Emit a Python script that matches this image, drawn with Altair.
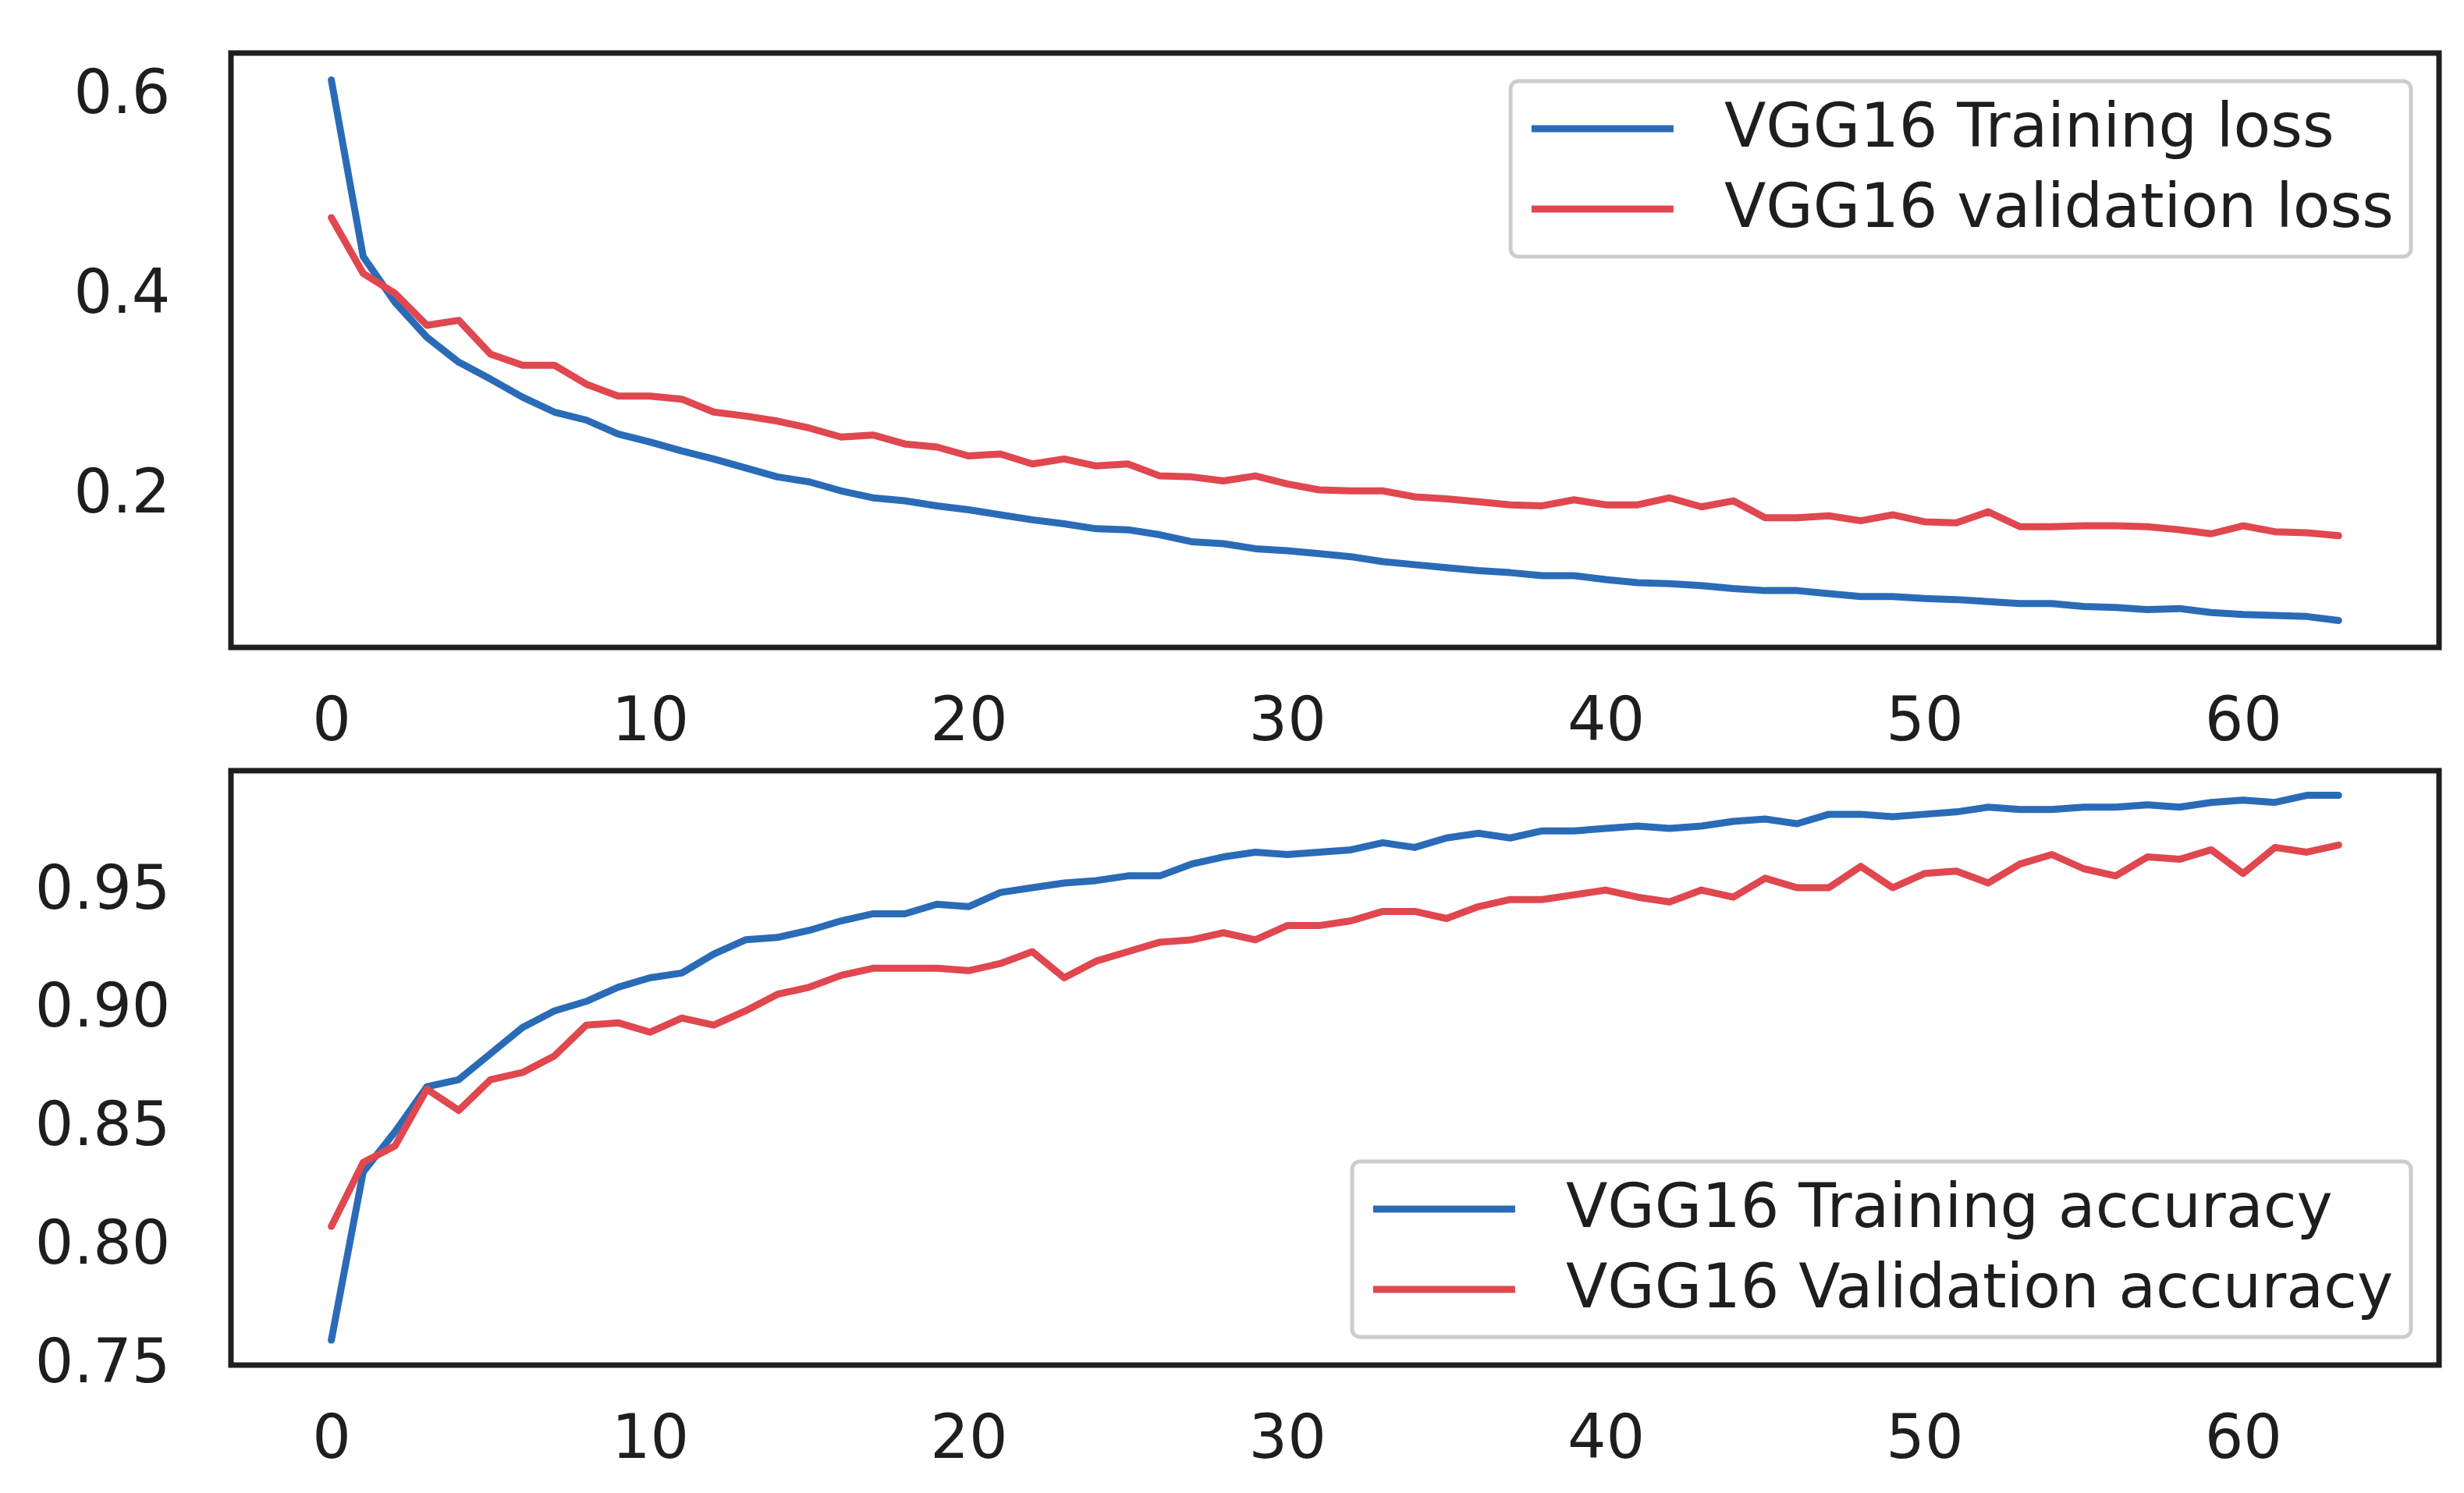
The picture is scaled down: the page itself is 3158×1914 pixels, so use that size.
"""Training history of VGG16: loss and accuracy per epoch."""

import altair as alt
import pandas as pd

epochs = list(range(64))

train_loss = [
    0.615, 0.438, 0.392, 0.357, 0.332, 0.315, 0.297, 0.282, 0.274, 0.260,
    0.252, 0.243, 0.235, 0.226, 0.217, 0.212, 0.203, 0.196, 0.193, 0.188,
    0.184, 0.179, 0.174, 0.170, 0.165, 0.164, 0.159, 0.152, 0.150, 0.145,
    0.143, 0.140, 0.137, 0.132, 0.129, 0.126, 0.123, 0.121, 0.118, 0.118,
    0.114, 0.111, 0.110, 0.108, 0.105, 0.103, 0.103, 0.100, 0.097, 0.097,
    0.095, 0.094, 0.092, 0.090, 0.090, 0.087, 0.086, 0.084, 0.085, 0.081,
    0.079, 0.078, 0.077, 0.073,
]
val_loss = [
    0.477, 0.421, 0.401, 0.369, 0.374, 0.340, 0.329, 0.329, 0.310, 0.298,
    0.298, 0.295, 0.282, 0.278, 0.273, 0.266, 0.257, 0.259, 0.250, 0.247,
    0.238, 0.240, 0.230, 0.235, 0.228, 0.230, 0.218, 0.217, 0.213, 0.218,
    0.210, 0.204, 0.203, 0.203, 0.197, 0.195, 0.192, 0.189, 0.188, 0.194,
    0.189, 0.189, 0.196, 0.187, 0.193, 0.176, 0.176, 0.178, 0.173, 0.179,
    0.172, 0.171, 0.182, 0.167, 0.167, 0.168, 0.168, 0.167, 0.164, 0.160,
    0.168, 0.162, 0.161, 0.158,
]
train_acc = [
    0.760, 0.831, 0.848, 0.867, 0.870, 0.881, 0.892, 0.899, 0.903, 0.909,
    0.913, 0.915, 0.923, 0.929, 0.930, 0.933, 0.937, 0.940, 0.940, 0.944,
    0.943, 0.949, 0.951, 0.953, 0.954, 0.956, 0.956, 0.961, 0.964, 0.966,
    0.965, 0.966, 0.967, 0.970, 0.968, 0.972, 0.974, 0.972, 0.975, 0.975,
    0.976, 0.977, 0.976, 0.977, 0.979, 0.980, 0.978, 0.982, 0.982, 0.981,
    0.982, 0.983, 0.985, 0.984, 0.984, 0.985, 0.985, 0.986, 0.985, 0.987,
    0.988, 0.987, 0.990, 0.990,
]
val_acc = [
    0.808, 0.835, 0.842, 0.866, 0.857, 0.870, 0.873, 0.880, 0.893, 0.894,
    0.890, 0.896, 0.893, 0.899, 0.906, 0.909, 0.914, 0.917, 0.917, 0.917,
    0.916, 0.919, 0.924, 0.913, 0.920, 0.924, 0.928, 0.929, 0.932, 0.929,
    0.935, 0.935, 0.937, 0.941, 0.941, 0.938, 0.943, 0.946, 0.946, 0.948,
    0.950, 0.947, 0.945, 0.950, 0.947, 0.955, 0.951, 0.951, 0.960, 0.951,
    0.957, 0.958, 0.953, 0.961, 0.965, 0.959, 0.956, 0.964, 0.963, 0.967,
    0.957, 0.968, 0.966, 0.969,
]

loss_names = ["VGG16 Training loss", "VGG16 validation loss"]
acc_names = ["VGG16 Training accuracy", "VGG16 Validation accuracy"]
x_ticks = [0, 10, 20, 30, 40, 50, 60]
loss_ticks = [0.2, 0.4, 0.6]
acc_ticks = [0.75, 0.80, 0.85, 0.90, 0.95]

BLUE = "#2a6bb8"
RED = "#e0474f"
INK = "#1e1e1e"
FONT = "DejaVu Sans"
FONT_SIZE = 78
LINE_WIDTH = 9


def history_frame(train, val, names):
    return pd.DataFrame(
        {
            "epoch": epochs + epochs,
            "value": train + val,
            "series": [names[0]] * len(train) + [names[1]] * len(val),
        }
    )


def panel(df, names, y_domain, y_ticks, y_format, legend_orient):
    return (
        alt.Chart(df)
        .mark_line(strokeWidth=LINE_WIDTH, strokeCap="round", strokeJoin="round")
        .encode(
            x=alt.X(
                "epoch:Q",
                title=None,
                scale=alt.Scale(domain=[-3.15, 66.15], nice=False, zero=False),
                axis=alt.Axis(values=x_ticks, labelPadding=56),
            ),
            y=alt.Y(
                "value:Q",
                title=None,
                scale=alt.Scale(domain=y_domain, nice=False, zero=False),
                axis=alt.Axis(values=y_ticks, format=y_format, labelPadding=78),
            ),
            color=alt.Color(
                "series:N",
                title=None,
                scale=alt.Scale(domain=names, range=[BLUE, RED]),
                legend=alt.Legend(orient=legend_orient),
            ),
        )
        .properties(width=2830, height=762)
    )


loss_chart = panel(
    history_frame(train_loss, val_loss, loss_names),
    loss_names, [0.046, 0.642], loss_ticks, ".1f", "top-right",
)
acc_chart = panel(
    history_frame(train_acc, val_acc, acc_names),
    acc_names, [0.7495, 1.0004], acc_ticks, ".2f", "bottom-right",
)

chart = (
    alt.vconcat(loss_chart, acc_chart, spacing=16)
    .resolve_scale(color="independent")
    .properties(padding={"left": 32, "top": 56, "right": 20, "bottom": 10})
    .configure_view(stroke=INK, strokeWidth=7)
    .configure_axis(
        grid=False,
        ticks=False,
        domain=False,
        labelFont=FONT,
        labelFontSize=FONT_SIZE,
        labelColor=INK,
    )
    .configure_legend(
        labelFont=FONT,
        labelFontSize=FONT_SIZE,
        labelColor=INK,
        labelLimit=2000,
        labelOffset=174,
        # long flat line as legend key, drawn mostly right of its anchor
        # so it stays inside the box; a path keeps the rows compact
        symbolType="M-1.5,0L6.5,0",
        symbolStrokeWidth=LINE_WIDTH,
        symbolSize=2070,
        rowPadding=25,
        padding=22,
        offset=36,
        fillColor="white",
        strokeColor="#cccccc",
        strokeWidth=5,
        cornerRadius=10,
    )
)

chart.save("out.html", embed_options={"renderer": "svg", "actions": False})
